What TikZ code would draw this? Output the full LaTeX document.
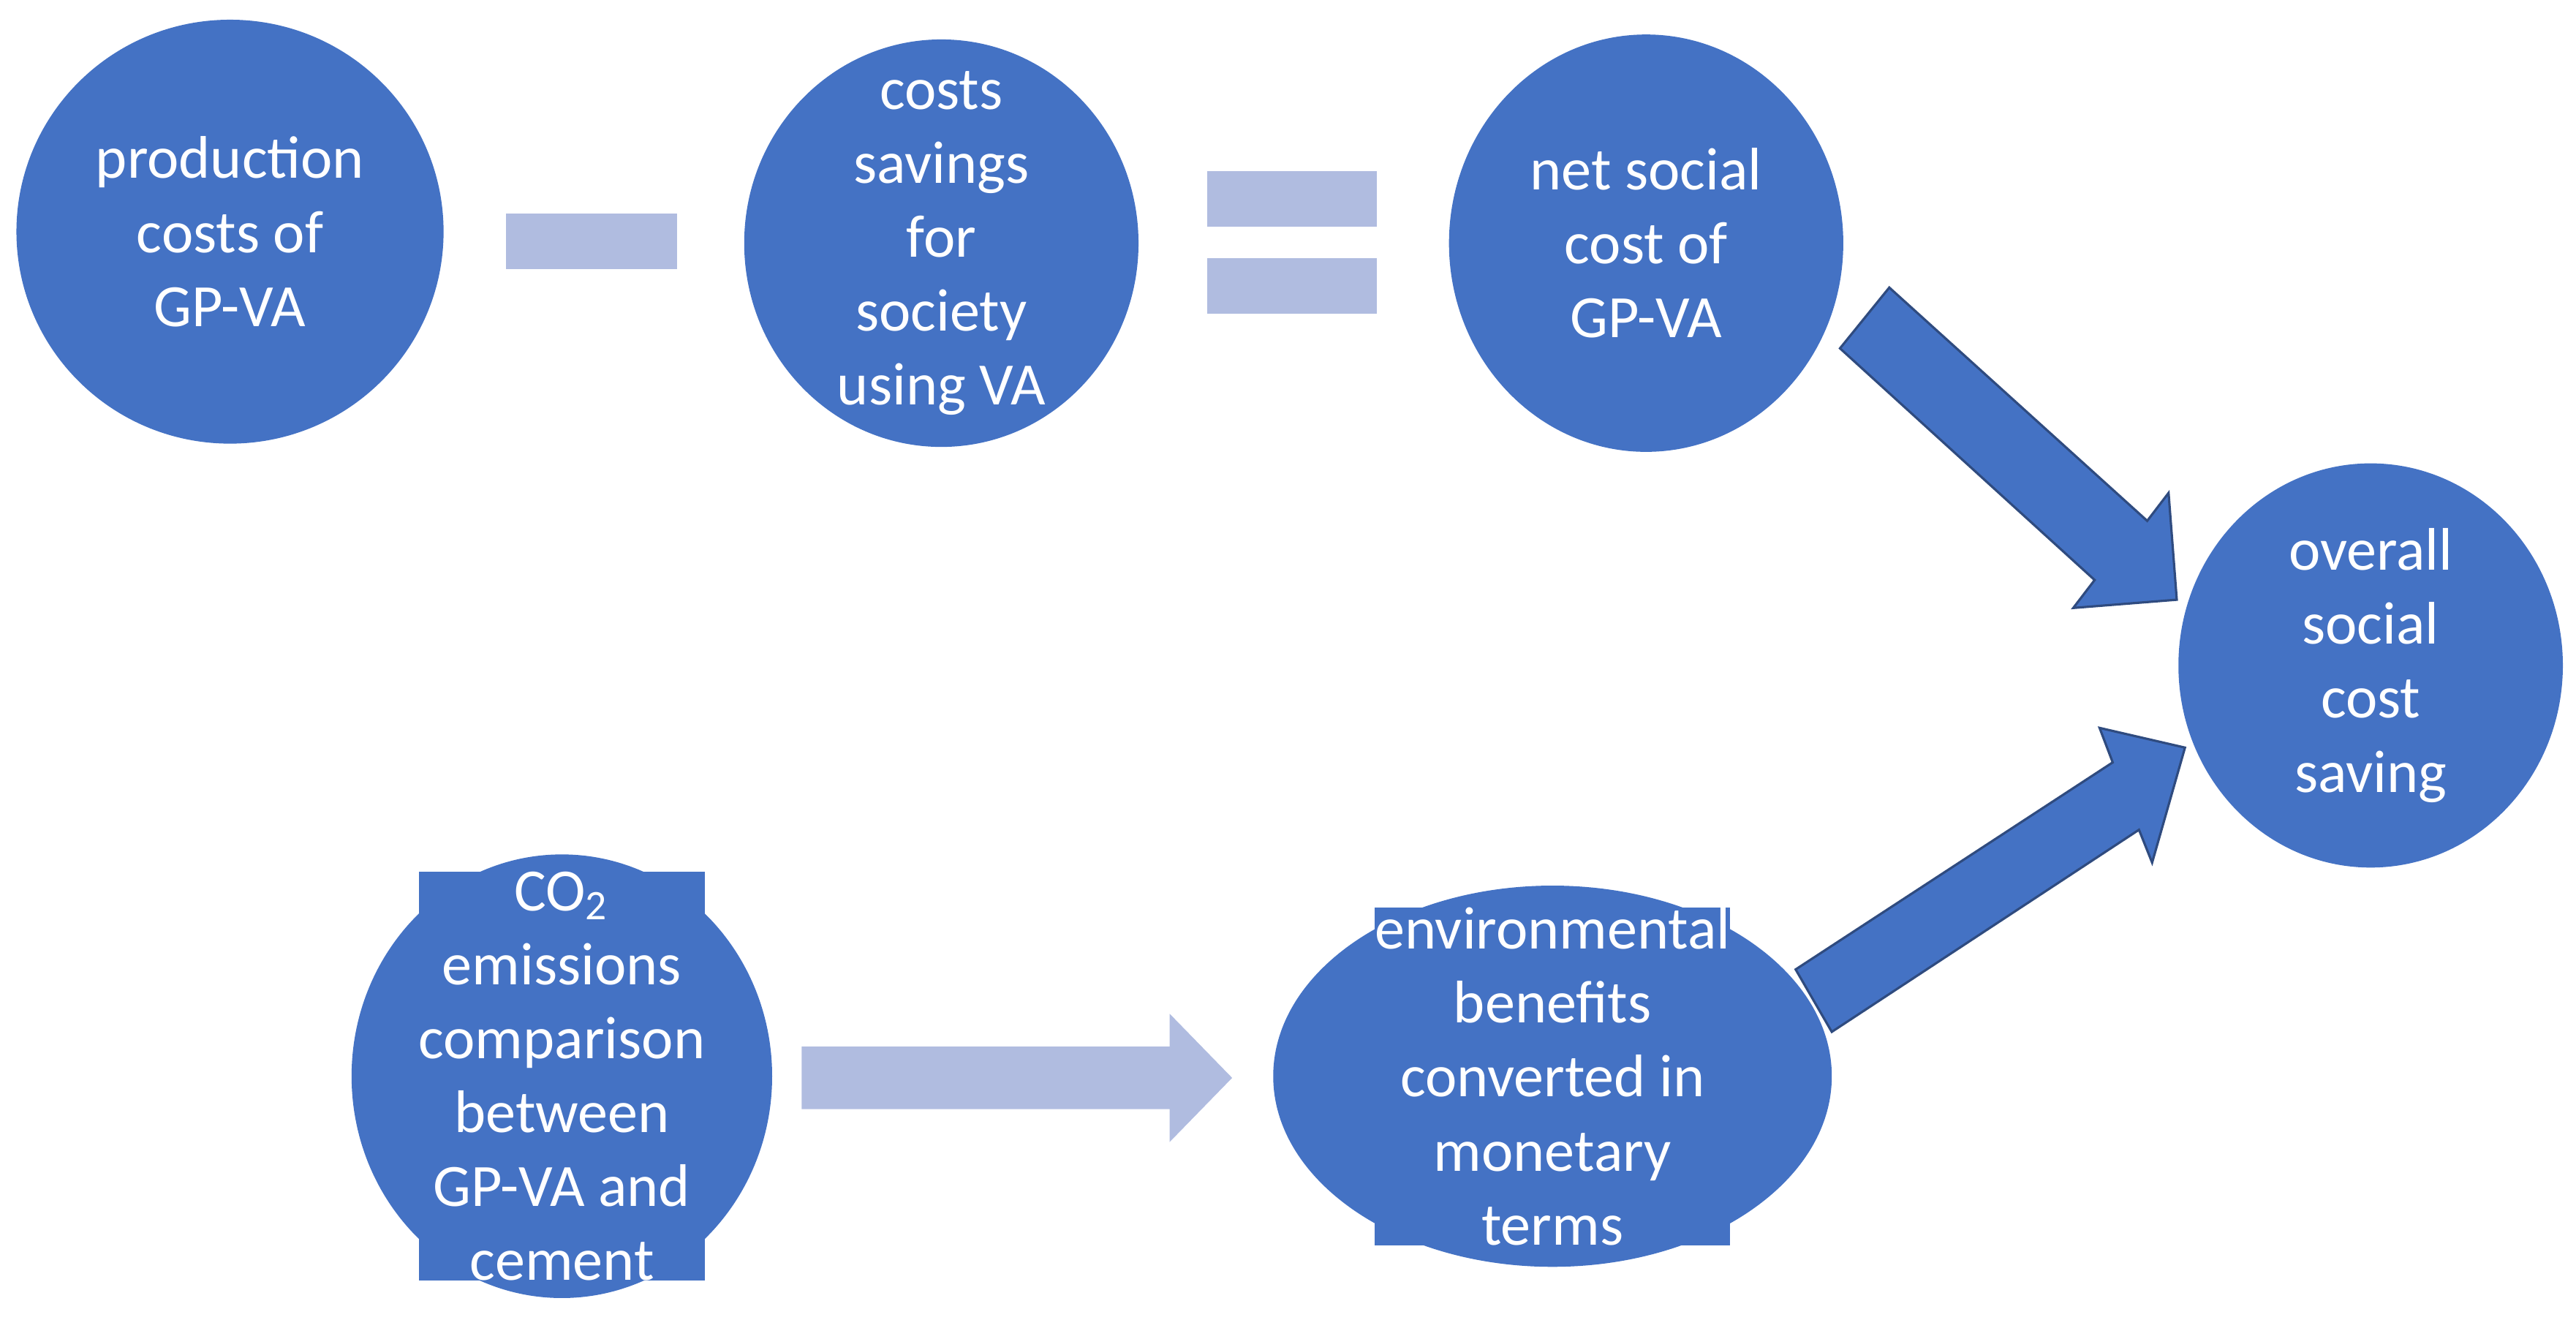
\documentclass[tikz,border=0pt]{standalone}
\usepackage{fontspec}
\setmainfont{Carlito}
\definecolor{dblue}{HTML}{4472C4}
\definecolor{lblue}{HTML}{B0BCE0}
\definecolor{edgeb}{HTML}{2F4B7F}
\begin{document}
\begin{tikzpicture}[x=0.01cm,y=-0.01cm,
  circ/.style={ellipse,fill=dblue,text=white,align=center,inner sep=0pt,font=\fontsize{10.4}{12.8}\selectfont},
  bar/.style={fill=lblue},
  big/.style={fill=dblue,draw=edgeb,line width=0.4pt,line join=miter}]
\useasboundingbox (0,0) rectangle (1568,803);
\tikzset{ellipse/.style={}}
\fill[dblue] (140,141) ellipse [x radius=130,y radius=129];
\node[circ] (a) at (140,141) {production\\costs of\\GP-VA};
\fill[dblue] (573,148) ellipse [x radius=120,y radius=124];
\node[circ] (b) at (573,148) {costs\\savings\\for\\society\\using VA};
\fill[dblue] (1002,148) ellipse [x radius=120,y radius=127];
\node[circ] (c) at (1002,148) {net social\\cost of\\GP-VA};
\fill[dblue] (1443,405) ellipse [x radius=117,y radius=123];
\node[circ] (d) at (1443,405) {overall\\social\\cost\\saving};
\fill[dblue] (342,655) ellipse [x radius=128,y radius=135];
\node[circ] (e) at (342,655) {CO\textsubscript{2}\\emissions\\comparison\\between\\GP-VA and\\cement};
\fill[dblue] (945,655) ellipse [x radius=170,y radius=116];
\node[circ] (f) at (945,655) {environmental\\benefits\\converted in\\monetary\\terms};
\fill[bar] (308,130) rectangle (412,164);
\fill[bar] (735,104) rectangle (838,138);
\fill[bar] (735,157) rectangle (838,191);
\fill[bar] (488,637) -- (712,637) -- (712,617) -- (750,656) -- (712,695) -- (712,675) -- (488,675) -- cycle;
\draw[big] (1150,175) -- (1307,317) -- (1320,300) -- (1325,365) -- (1262,370) -- (1275,353) -- (1120,212) -- cycle;
\draw[big] (1093,590) -- (1286,464) -- (1278,443) -- (1330,455) -- (1310,525) -- (1302,505) -- (1115,628) -- cycle;
\end{tikzpicture}
\end{document}
